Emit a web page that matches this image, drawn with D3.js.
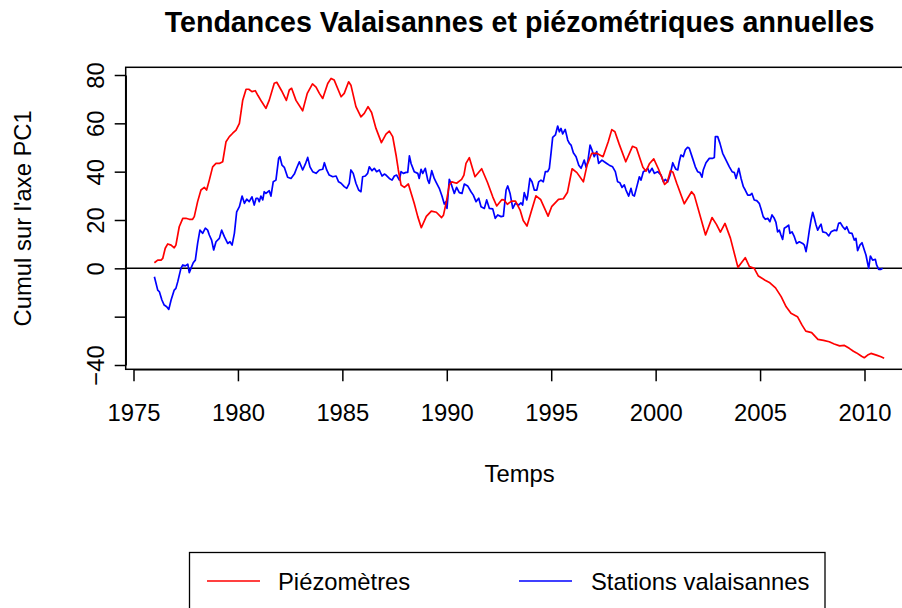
<!DOCTYPE html>
<html>
<head>
<meta charset="utf-8">
<script src="https://cdn.jsdelivr.net/npm/d3@7"></script>
<style>
  html, body { margin: 0; padding: 0; background: #fff; }
  svg { display: block; }
  text { font-family: "Liberation Sans", Arial, Helvetica, sans-serif; fill: #000; }
</style>
</head>
<body>
<svg id="chart" width="902" height="608"></svg>
<script>
const chartTitle = "Tendances Valaisannes et piézométriques annuelles";
const xTitle = "Temps";
const yTitle = "Cumul sur l'axe PC1";
const seriesNames = ["Piézomètres", "Stations valaisannes"];
const seriesColors = ["#ff0000", "#0000ff"];
const xTicks = [1975, 1980, 1985, 1990, 1995, 2000, 2005, 2010];
const yTicks = [-40, -20, 0, 20, 40, 60, 80];
const yTickLabels = ["\u221240", "", "0", "20", "40", "60", "80"];

const piezoYears = [
  1976.00,1976.16,1976.32,1976.40,1976.52,1976.64,1976.80,1976.95,1977.03,1977.19,
  1977.36,1977.51,1977.67,1977.83,1977.91,1978.07,1978.23,1978.39,1978.50,1978.63,
  1978.79,1978.95,1979.11,1979.27,1979.43,1979.59,1979.75,1979.91,1980.07,1980.23,
  1980.39,1980.52,1980.67,1980.83,1980.96,1981.14,1981.34,1981.50,1981.74,1981.86,
  1982.09,1982.32,1982.46,1982.57,1982.78,1983.10,1983.32,1983.57,1983.74,1983.90,
  1984.06,1984.30,1984.46,1984.61,1984.94,1985.09,1985.30,1985.41,1985.65,1985.89,
  1986.05,1986.23,1986.40,1986.61,1986.87,1987.09,1987.25,1987.41,1987.57,1987.68,
  1987.81,1987.97,1988.16,1988.44,1988.61,1988.78,1989.02,1989.26,1989.50,1989.75,
  1989.84,1989.98,1990.12,1990.24,1990.47,1990.71,1990.82,1990.92,1991.08,1991.35,
  1991.67,1991.95,1992.20,1992.39,1992.63,1992.74,1992.90,1993.10,1993.29,1993.51,
  1993.66,1993.84,1994.02,1994.27,1994.49,1994.85,1995.02,1995.35,1995.58,1995.78,
  1996.00,1996.23,1996.54,1996.72,1996.94,1997.18,1997.48,1997.73,1997.90,1998.05,
  1998.25,1998.57,1998.89,1999.08,1999.39,1999.54,1999.71,1999.91,2000.14,2000.43,
  2000.56,2000.71,2000.83,2001.01,2001.37,2001.72,2001.85,2002.39,2002.70,2002.91,
  2003.10,2003.32,2003.58,2003.94,2004.09,2004.29,2004.49,2004.72,2004.92,2005.24,
  2005.47,2005.74,2006.01,2006.25,2006.48,2006.79,2007.01,2007.19,2007.47,2007.77,
  2008.04,2008.31,2008.55,2008.81,2009.04,2009.27,2009.47,2009.62,2009.86,2009.99,
  2010.15,2010.31,2010.57,2010.79,2010.94
];
const piezoValues = [
  2.3,3.4,3.4,4.1,8.3,10.1,9.6,8.5,9.6,17.2,
  20.7,20.7,20.3,20.3,21.4,27.6,32.4,33.5,32.4,36.5,
  42.0,43.4,43.4,44.1,52.4,54.5,55.9,57.2,60.0,69.6,
  74.1,74.1,73.1,73.5,71.5,68.9,66.2,69.6,76.6,77.0,
  73.5,69.5,73.8,74.5,69.5,65.2,72.4,76.3,75.0,72.4,
  70.3,76.5,78.6,77.9,71.0,72.4,77.2,75.8,66.9,62.7,
  64.1,66.9,64.5,57.9,52.0,55.5,56.8,54.5,46.9,40.7,
  34.5,33.5,34.9,26.9,21.4,16.8,21.5,23.7,23.2,21.0,
  22.0,27.5,34.5,35.8,35.2,36.8,38.6,43.4,45.8,37.9,
  41.2,35.5,29.6,25.8,28.4,28.3,26.5,27.8,27.8,24.1,
  19.8,17.5,22.8,30.0,28.5,21.6,25.5,28.5,28.8,31.5,
  41.2,39.6,35.8,42.8,47.6,47.6,46.2,52.4,57.4,56.5,
  51.5,44.1,50.5,49.8,41.8,40.2,43.4,45.3,41.0,34.7,
  35.8,40.4,39.8,35.2,26.7,31.7,30.3,13.8,21.0,18.2,
  15.0,18.6,12.5,0.4,2.1,4.4,0.7,0.0,-3.2,-4.9,
  -6.0,-8.1,-11.7,-15.9,-18.6,-20.0,-23.5,-26.0,-26.6,-29.4,
  -29.8,-30.4,-31.3,-32.1,-31.9,-33.1,-34.3,-35.0,-36.4,-37.0,
  -35.9,-35.2,-35.9,-36.6,-37.2
];

const stationYears = [
  1976.00,1976.16,1976.24,1976.36,1976.47,1976.59,1976.69,1976.80,1976.95,1977.03,
  1977.12,1977.27,1977.36,1977.48,1977.60,1977.67,1977.75,1977.86,1977.96,1978.07,
  1978.18,1978.31,1978.44,1978.55,1978.63,1978.74,1978.84,1978.95,1979.11,1979.22,
  1979.35,1979.51,1979.62,1979.72,1979.83,1979.94,1980.07,1980.20,1980.31,1980.42,
  1980.54,1980.67,1980.78,1980.87,1980.95,1981.02,1981.10,1981.19,1981.26,1981.34,
  1981.50,1981.58,1981.69,1981.82,1981.95,1982.01,1982.11,1982.22,1982.38,1982.54,
  1982.70,1982.81,1982.94,1983.10,1983.23,1983.34,1983.45,1983.58,1983.74,1983.90,
  1984.06,1984.14,1984.25,1984.37,1984.54,1984.70,1984.82,1984.94,1985.09,1985.21,
  1985.33,1985.41,1985.52,1985.65,1985.78,1985.89,1985.97,1986.10,1986.21,1986.29,
  1986.42,1986.53,1986.64,1986.77,1986.90,1987.01,1987.09,1987.25,1987.38,1987.49,
  1987.60,1987.73,1987.81,1987.92,1988.05,1988.13,1988.21,1988.29,1988.44,1988.61,
  1988.68,1988.77,1988.85,1988.97,1989.09,1989.16,1989.28,1989.40,1989.48,1989.64,
  1989.77,1989.88,1989.96,1990.01,1990.12,1990.20,1990.36,1990.47,1990.60,1990.73,
  1990.84,1991.00,1991.16,1991.27,1991.40,1991.53,1991.64,1991.80,1991.91,1992.04,
  1992.20,1992.32,1992.44,1992.60,1992.71,1992.84,1992.92,1993.03,1993.16,1993.28,
  1993.44,1993.55,1993.63,1993.71,1993.83,1993.87,1993.98,1994.08,1994.19,1994.31,
  1994.40,1994.51,1994.62,1994.72,1994.83,1994.91,1994.99,1995.07,1995.20,1995.31,
  1995.39,1995.47,1995.55,1995.67,1995.79,1995.87,1995.95,1996.06,1996.19,1996.32,
  1996.43,1996.51,1996.58,1996.67,1996.75,1996.86,1996.95,1997.06,1997.18,1997.27,
  1997.43,1997.54,1997.66,1997.78,1997.94,1998.07,1998.18,1998.29,1998.39,1998.50,
  1998.58,1998.71,1998.82,1998.90,1998.98,1999.09,1999.22,1999.30,1999.41,1999.54,
  1999.62,1999.70,1999.83,1999.94,2000.10,2000.26,2000.37,2000.46,2000.58,2000.69,
  2000.82,2000.89,2000.97,2001.06,2001.13,2001.21,2001.32,2001.42,2001.53,2001.61,
  2001.77,2001.90,2002.01,2002.12,2002.22,2002.28,2002.41,2002.57,2002.73,2002.81,
  2002.86,2002.97,2003.08,2003.21,2003.37,2003.53,2003.66,2003.77,2003.85,2003.98,
  2004.09,2004.20,2004.29,2004.41,2004.52,2004.61,2004.72,2004.84,2004.96,2005.04,
  2005.15,2005.25,2005.37,2005.47,2005.57,2005.68,2005.76,2005.84,2005.92,2006.00,
  2006.08,2006.16,2006.27,2006.37,2006.43,2006.53,2006.64,2006.75,2006.88,2007.04,
  2007.12,2007.20,2007.28,2007.36,2007.44,2007.52,2007.60,2007.68,2007.76,2007.84,
  2007.92,2008.00,2008.16,2008.29,2008.40,2008.55,2008.67,2008.76,2008.84,2008.96,
  2009.07,2009.15,2009.27,2009.40,2009.51,2009.59,2009.67,2009.78,2009.88,2009.99,
  2010.07,2010.15,2010.20,2010.28,2010.39,2010.52,2010.58,2010.68,2010.79,2010.87
];
const stationValues = [
  -3.5,-9.0,-9.7,-13.1,-15.2,-15.9,-17.0,-13.1,-9.0,-8.3,
  -5.5,0.0,1.4,1.0,1.7,-1.8,0.0,2.3,3.4,10.3,
  15.8,14.5,16.6,15.8,13.8,11.7,7.6,11.0,12.4,15.8,
  13.1,10.3,11.0,9.6,14.5,23.4,25.5,29.9,26.9,28.6,
  27.6,29.6,26.2,29.0,29.0,27.6,29.9,28.3,31.7,31.0,
  32.1,29.9,35.8,36.5,45.5,46.2,42.7,41.8,37.7,37.2,
  39.0,41.4,44.1,40.7,43.2,45.9,42.0,40.0,39.3,40.7,
  41.0,43.7,40.7,38.6,37.9,38.2,35.8,35.2,33.8,33.1,
  35.2,40.7,39.3,35.2,32.4,31.7,37.9,38.2,39.3,42.0,
  40.4,41.4,40.0,40.7,38.2,39.0,38.6,37.2,36.5,38.2,
  38.6,36.5,40.0,39.3,39.7,39.7,46.5,43.4,40.0,39.3,
  37.2,41.0,39.3,41.4,36.5,35.2,40.4,37.2,35.8,33.1,
  29.9,26.6,27.6,24.8,36.8,35.2,31.0,33.5,31.3,31.0,
  34.9,34.1,31.7,30.3,27.6,29.0,25.5,24.8,28.3,24.8,
  24.6,20.7,22.1,21.4,21.6,32.4,34.1,31.0,24.8,26.9,
  26.2,27.1,26.2,31.3,28.3,29.9,37.2,35.8,32.4,32.4,
  35.8,36.5,35.8,40.0,40.0,41.4,47.6,54.2,55.2,58.9,
  56.5,57.9,55.6,57.5,53.1,51.7,51.0,47.8,46.2,42.7,
  41.4,43.2,44.8,41.8,44.1,51.0,49.0,46.2,48.3,43.4,
  44.8,44.1,43.4,42.7,42.0,40.0,35.8,35.4,33.5,34.5,
  32.4,29.9,33.1,30.3,29.9,33.5,37.9,36.5,40.0,40.7,
  41.4,39.6,41.4,39.3,40.0,38.6,35.8,36.8,35.8,38.6,
  43.7,42.3,41.0,40.7,44.1,46.9,46.2,49.0,50.1,49.7,
  45.5,42.0,40.0,39.6,37.7,40.7,43.7,45.5,45.5,45.9,
  54.5,54.5,51.7,47.6,44.8,42.0,40.0,39.6,37.2,41.4,
  37.2,33.8,32.4,30.3,30.3,31.0,28.3,28.0,26.9,24.8,
  21.4,20.3,20.7,19.3,22.1,20.7,19.0,15.1,15.8,13.8,
  12.0,16.6,17.2,17.9,14.5,15.1,13.1,10.3,11.0,10.3,
  9.6,6.9,11.0,15.8,20.0,23.2,20.7,17.9,15.8,17.2,
  18.3,15.1,14.7,13.4,15.1,15.8,15.6,18.6,18.9,17.2,
  16.1,17.2,14.7,14.5,11.7,12.4,7.3,9.6,10.6,7.6,
  5.5,2.1,0.0,5.1,3.4,3.7,1.4,-0.4,-0.4,0.0
];

const svg = d3.select("#chart");
// plot region (right edge lies beyond the picture, as in the original)
const plot = { left: 125.7, top: 67.3, right: 913.5, bottom: 369.3 };

const x = d3.scaleLinear().domain([1975, 2010]).range([133.5, 864.5]);
const y = d3.scaleLinear().domain([-40, 80]).range([365.0, 75.0]);

const FONT = 23.8;
const FONT_FAMILY = '"Liberation Sans", Arial, Helvetica, sans-serif';

// title
svg.append("text")
  .attr("x", (plot.left + plot.right) / 2).attr("y", 32)
  .attr("text-anchor", "middle")
  .style("font-size", "28.6px").style("font-weight", "bold")
  .text(chartTitle);

// clip for data
svg.append("clipPath").attr("id", "clip")
  .append("rect")
  .attr("x", plot.left).attr("y", plot.top)
  .attr("width", plot.right - plot.left).attr("height", plot.bottom - plot.top);

// zero reference line
svg.append("line")
  .attr("x1", plot.left).attr("x2", plot.right)
  .attr("y1", y(0)).attr("y2", y(0))
  .attr("stroke", "#000").attr("stroke-width", 1.5);

const line = d3.line().x(d => x(d[0])).y(d => y(d[1]));
const piezo = piezoYears.map((t, i) => [t, piezoValues[i]]);
const stations = stationYears.map((t, i) => [t, stationValues[i]]);

const gData = svg.append("g").attr("clip-path", "url(#clip)");
gData.append("path").datum(stations)
  .attr("d", line).attr("fill", "none")
  .attr("stroke", seriesColors[1]).attr("stroke-width", 1.7)
  .attr("stroke-linejoin", "round");
gData.append("path").datum(piezo)
  .attr("d", line).attr("fill", "none")
  .attr("stroke", seriesColors[0]).attr("stroke-width", 1.7)
  .attr("stroke-linejoin", "round");

// box
svg.append("rect")
  .attr("x", plot.left).attr("y", plot.top)
  .attr("width", plot.right - plot.left).attr("height", plot.bottom - plot.top)
  .attr("fill", "none").attr("stroke", "#000").attr("stroke-width", 1.5);

// x axis
const xAxis = d3.axisBottom(x).tickValues(xTicks).tickFormat(d3.format("d"))
  .tickSize(12).tickSizeOuter(0).tickPadding(0);
const gx = svg.append("g").attr("transform", `translate(0,${plot.bottom})`).call(xAxis);
gx.select(".domain").attr("stroke", "#000").attr("stroke-width", 1.5);
gx.selectAll(".tick line").attr("stroke", "#000").attr("stroke-width", 1.5);
gx.selectAll(".tick text")
  .attr("y", 0).attr("dy", null)
  .attr("transform", "translate(0,51.7)")
  .attr("fill", "#000")
  .style("font-size", FONT + "px")
  .style("font-family", FONT_FAMILY);

// y axis
const yAxis = d3.axisLeft(y).tickValues(yTicks)
  .tickFormat((d, i) => yTickLabels[i])
  .tickSize(11).tickSizeOuter(0).tickPadding(0);
const gy = svg.append("g").attr("transform", `translate(${plot.left},0)`).call(yAxis);
gy.select(".domain").attr("stroke", "#000").attr("stroke-width", 1.5);
gy.selectAll(".tick line").attr("stroke", "#000").attr("stroke-width", 1.5);
gy.selectAll(".tick text")
  .attr("x", 0).attr("dy", null)
  .attr("text-anchor", "middle")
  .attr("transform", `translate(${104 - plot.left},0) rotate(-90)`)
  .attr("fill", "#000")
  .style("font-size", FONT + "px")
  .style("font-family", FONT_FAMILY);

// axis titles
svg.append("text")
  .attr("x", (plot.left + plot.right) / 2).attr("y", 482)
  .attr("text-anchor", "middle").style("font-size", FONT + "px")
  .text(xTitle);
svg.append("text")
  .attr("transform", `translate(31,${(plot.top + plot.bottom) / 2}) rotate(-90)`)
  .attr("text-anchor", "middle").style("font-size", FONT + "px")
  .text(yTitle);

// legend
const legend = svg.append("g");
legend.append("rect")
  .attr("x", 189.5).attr("y", 552.5).attr("width", 635.5).attr("height", 80)
  .attr("fill", "none").attr("stroke", "#000").attr("stroke-width", 1.3);
const legendItems = [
  { name: seriesNames[0], color: seriesColors[0], x1: 207, x2: 260, tx: 278 },
  { name: seriesNames[1], color: seriesColors[1], x1: 519, x2: 572, tx: 591 }
];
legendItems.forEach(it => {
  legend.append("line")
    .attr("x1", it.x1).attr("x2", it.x2).attr("y1", 581).attr("y2", 581)
    .attr("stroke", it.color).attr("stroke-width", 1.7);
  legend.append("text")
    .attr("x", it.tx).attr("y", 589.5)
    .style("font-size", FONT + "px")
    .text(it.name);
});
</script>
</body>
</html>
